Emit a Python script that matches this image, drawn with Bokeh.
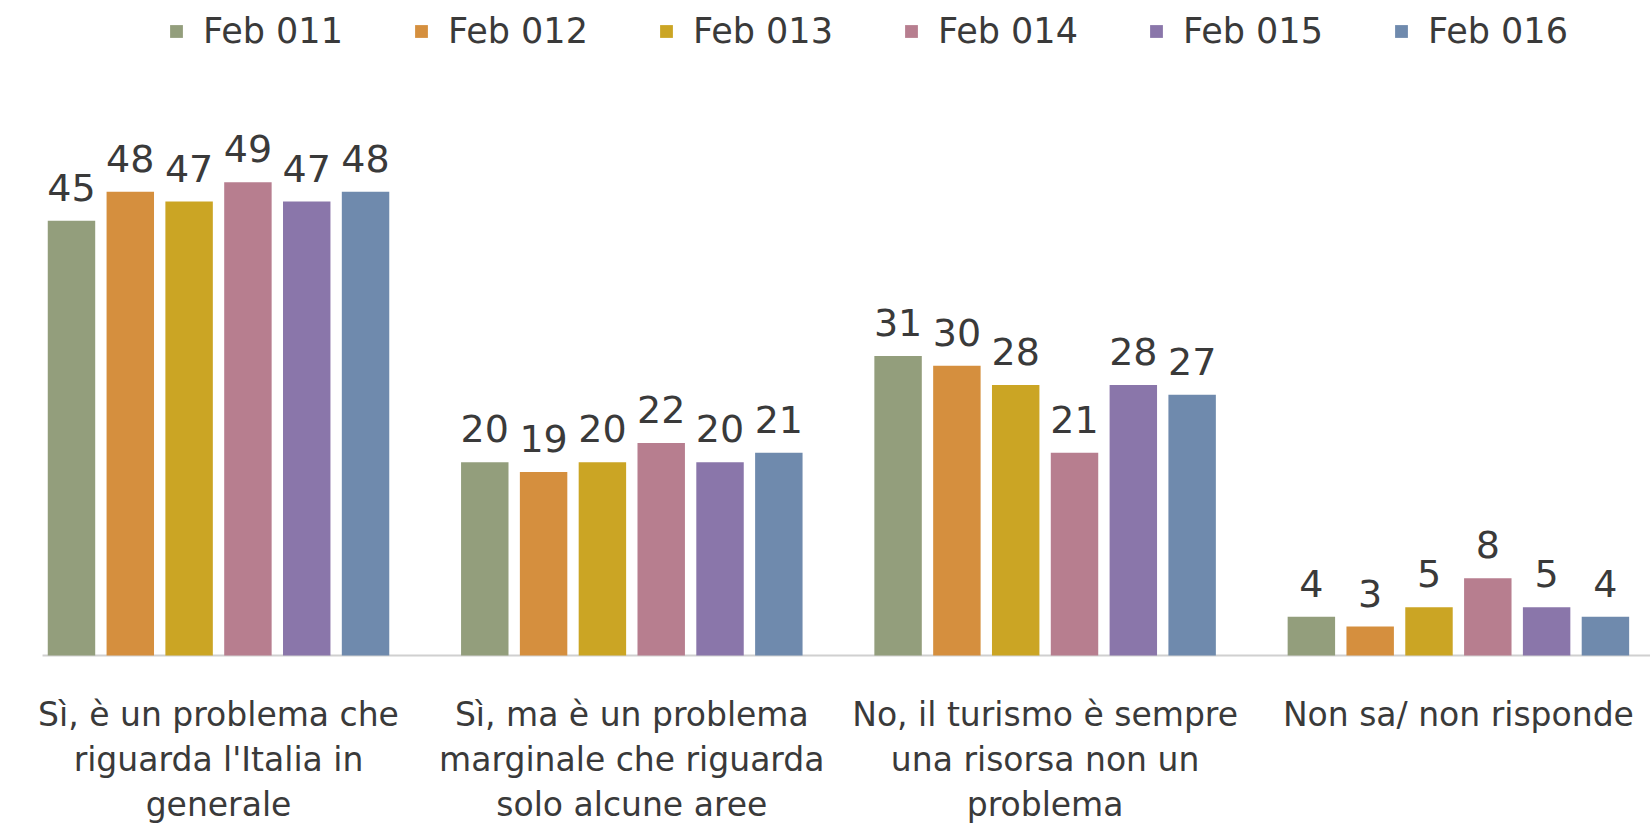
from bokeh.plotting import figure
from bokeh.models import ColumnDataSource, Range1d, Legend, LegendItem
from bokeh.transform import dodge
from bokeh.core.properties import value
from bokeh.embed import file_html
from bokeh.resources import INLINE

categories = [
    "Sì, è un problema che\nriguarda l'Italia in\ngenerale",
    "Sì, ma è un problema\nmarginale che riguarda\nsolo alcune aree",
    "No, il turismo è sempre\nuna risorsa non un\nproblema",
    "Non sa/ non risponde",
]
series_names = ["Feb 011", "Feb 012", "Feb 013", "Feb 014", "Feb 015", "Feb 016"]
feb011 = [45, 20, 31, 4]
feb012 = [48, 19, 30, 3]
feb013 = [47, 20, 28, 5]
feb014 = [49, 22, 21, 8]
feb015 = [47, 20, 28, 5]
feb016 = [48, 21, 27, 4]
series_values = [feb011, feb012, feb013, feb014, feb015, feb016]
colors = ["#939E7C", "#D58F3E", "#CBA524", "#B77E8F", "#8A76AA", "#6F8AAD"]

FONT = "DejaVu Sans"
TXT = "#3a3a3a"

X_START, X_END = -0.5275, 3.4648
AXIS_X0 = -0.4258  # where the category axis line begins

p = figure(width=1650, height=825, output_backend="svg", toolbar_location=None,
           x_range=Range1d(X_START, X_END), y_range=Range1d(-17.60, 67.81),
           min_border_left=0, min_border_right=0, min_border_top=0, min_border_bottom=0)
p.outline_line_color = None
p.xgrid.visible = False
p.ygrid.visible = False
p.xaxis.visible = False
p.yaxis.visible = False

slot = 0.1423
bw = 0.1148
xs = list(range(len(categories)))

# category axis baseline
p.segment(x0=[AXIS_X0], y0=[0], x1=[X_END], y1=[0], line_color="#d0d0d0", line_width=2)

items = []
for j, (name, vals, col) in enumerate(zip(series_names, series_values, colors)):
    src = ColumnDataSource(dict(x=xs, top=vals, lab=[str(v) for v in vals]))
    off = (j - 2.5) * slot
    r = p.vbar(x=dodge("x", off), top="top", width=bw, bottom=0, source=src,
               fill_color=col, line_color=None)
    p.text(x=dodge("x", off), y="top", text="lab", source=src,
           text_font=value(FONT), text_font_size="38px", text_color=TXT,
           text_align="center", text_baseline="bottom", y_offset=-20)
    items.append(LegendItem(label=name, renderers=[r]))

cat_src = ColumnDataSource(dict(x=xs, y=[0] * len(xs), lab=categories))
p.text(x="x", y="y", text="lab", source=cat_src, text_font=value(FONT),
       text_font_size="33px", text_color=TXT, text_align="center",
       text_baseline="top", text_line_height=1.153, y_offset=40)

legend = Legend(items=items, orientation="horizontal", location=(168, 774),
                glyph_width=16, glyph_height=16, label_standoff=19, spacing=70,
                label_text_font=FONT, label_text_font_size="35px", label_text_color=TXT,
                label_width=140, padding=2, margin=0, border_line_color=None,
                background_fill_alpha=0)
p.add_layout(legend)

open("out.html", "w").write(file_html(p, INLINE))
